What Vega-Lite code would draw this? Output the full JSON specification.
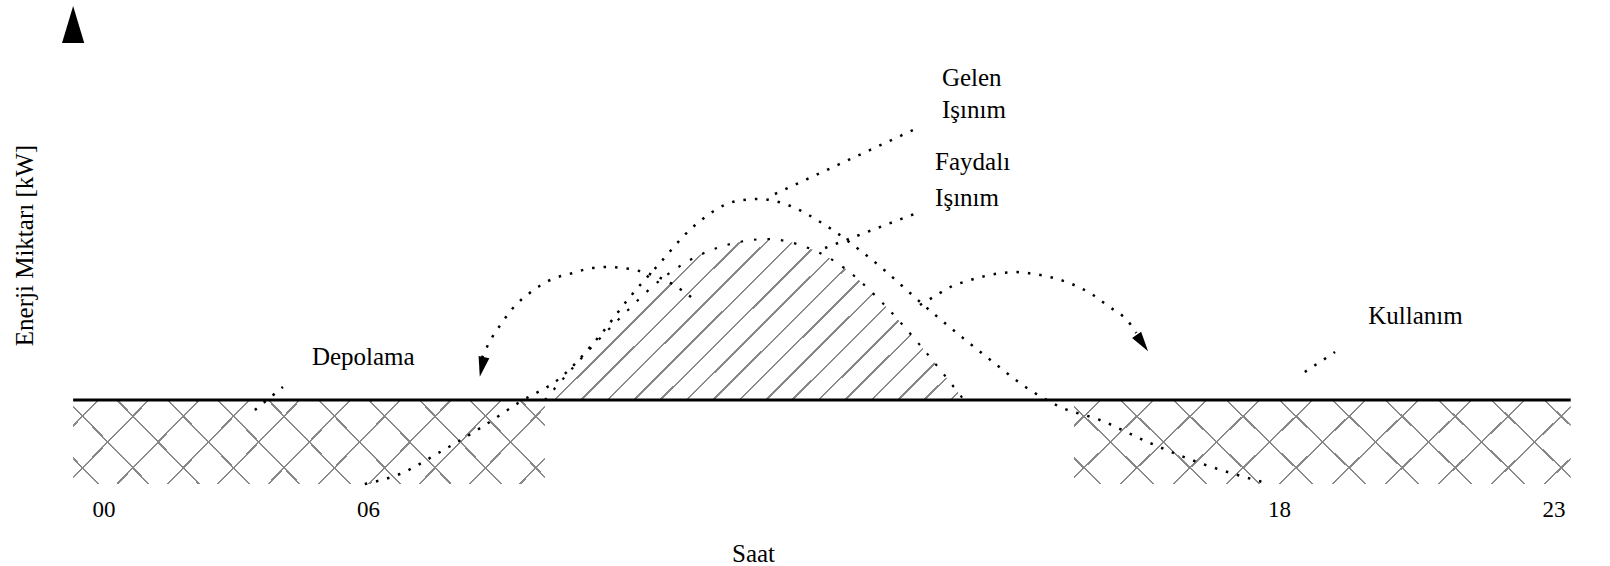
{
  "$schema": "https://vega.github.io/schema/vega-lite/v6.json",
  "width": 1498,
  "height": 478,
  "autosize": {"type": "none"},
  "padding": {"left": 73, "top": 6, "right": 39, "bottom": 82},
  "background": "white",
  "config": {
    "view": {"stroke": null},
    "text": {"font": "Liberation Serif"},
    "axis": {"labelFont": "Liberation Serif", "titleFont": "Liberation Serif", "titleFontWeight": "normal", "labelColor": "black", "titleColor": "black", "grid": false}
  },
  "datasets": {
    "gelen": [
      {"h": 5.93, "v": 0}, {"h": 6.42, "v": 1.0}, {"h": 6.95, "v": 3.2}, {"h": 7.48, "v": 5.6},
      {"h": 8.0, "v": 8.2}, {"h": 8.53, "v": 10.6}, {"h": 9.06, "v": 14.9}, {"h": 9.45, "v": 18.7},
      {"h": 9.81, "v": 21.8}, {"h": 10.31, "v": 25.9}, {"h": 10.86, "v": 28.3}, {"h": 11.16, "v": 28.5},
      {"h": 11.53, "v": 27.9}, {"h": 12.02, "v": 25.9}, {"h": 12.61, "v": 22.6}, {"h": 13.44, "v": 17.1},
      {"h": 14.2, "v": 12.4}, {"h": 14.72, "v": 9.4}, {"h": 15.12, "v": 7.7}, {"h": 15.64, "v": 6.4},
      {"h": 16.3, "v": 4.1}, {"h": 16.96, "v": 2.1}, {"h": 17.78, "v": 0.2}
    ],
    "faydali": [
      {"h": 8.33, "v": 8.4}, {"h": 8.79, "v": 12.4}, {"h": 9.32, "v": 16.6}, {"h": 9.85, "v": 20.4},
      {"h": 10.37, "v": 22.9}, {"h": 10.83, "v": 24.1}, {"h": 11.27, "v": 24.5}, {"h": 11.69, "v": 23.9},
      {"h": 12.22, "v": 21.9}, {"h": 12.74, "v": 18.4}, {"h": 13.27, "v": 13.9}, {"h": 13.85, "v": 8.4}
    ],
    "kullanim": [
      {"h": -0.41, "h2": 8.33, "v": 0, "v2": 8.4},
      {"h": 15.3, "h2": 23.1, "v": 0, "v2": 8.4}
    ],
    "usage": [{"h": -0.41, "h2": 23.1, "v": 8.4}],
    "arcs": [
      {"id": "L", "h": 10.31, "v": 18.4}, {"id": "L", "h": 9.91, "v": 20.4}, {"id": "L", "h": 9.67, "v": 21.1},
      {"id": "L", "h": 9.36, "v": 21.6}, {"id": "L", "h": 9.15, "v": 21.7}, {"id": "L", "h": 8.95, "v": 21.6},
      {"id": "L", "h": 8.7, "v": 21.1}, {"id": "L", "h": 8.4, "v": 20.4}, {"id": "L", "h": 8.13, "v": 19.1},
      {"id": "L", "h": 7.91, "v": 17.6}, {"id": "L", "h": 7.78, "v": 16.3}, {"id": "L", "h": 7.58, "v": 13.9},
      {"id": "L", "h": 7.5, "v": 12.6},
      {"id": "R", "h": 13.27, "v": 17.9}, {"id": "R", "h": 13.47, "v": 18.8}, {"id": "R", "h": 13.67, "v": 19.7},
      {"id": "R", "h": 13.89, "v": 20.3}, {"id": "R", "h": 14.13, "v": 20.8}, {"id": "R", "h": 14.35, "v": 21.1},
      {"id": "R", "h": 14.52, "v": 21.2}, {"id": "R", "h": 14.68, "v": 21.1}, {"id": "R", "h": 14.92, "v": 20.8},
      {"id": "R", "h": 15.08, "v": 20.5}, {"id": "R", "h": 15.27, "v": 20.0}, {"id": "R", "h": 15.55, "v": 18.9},
      {"id": "R", "h": 15.73, "v": 17.9}, {"id": "R", "h": 16.04, "v": 16.0}, {"id": "R", "h": 16.12, "v": 15.1}
    ],
    "leaders": [
      {"id": "G", "h": 11.36, "v": 29.0}, {"id": "G", "h": 13.21, "v": 35.5},
      {"id": "F", "h": 12.02, "v": 23.6}, {"id": "F", "h": 13.23, "v": 27.1},
      {"id": "K", "h": 18.45, "v": 11.2}, {"id": "K", "h": 18.98, "v": 13.2},
      {"id": "D", "h": 3.54, "v": 7.4}, {"id": "D", "h": 4.15, "v": 9.7}
    ],
    "heads": [
      {"k": "L", "h": 7.5, "v": 11.7},
      {"k": "R", "h": 16.2, "v": 14.1},
      {"k": "Y", "h": -0.41, "v": 45.95}
    ],
    "labels": [
      {"t": "Gelen", "h": 13.56, "v": 40.6},
      {"t": "Işınım", "h": 13.56, "v": 37.4},
      {"t": "Faydalı", "h": 13.47, "v": 32.2},
      {"t": "Işınım", "h": 13.47, "v": 28.6},
      {"t": "Depolama", "h": 4.78, "v": 12.7},
      {"t": "Kullanım", "h": 19.56, "v": 16.8}
    ]
  },
  "encoding": {
    "x": {
      "field": "h", "type": "quantitative",
      "scale": {"type": "linear", "domain": [0, 6, 18, 23], "range": [19, 295, 1206, 1492], "nice": false, "zero": false},
      "axis": {
        "title": "Saat", "titleFontSize": 25, "titleX": 680, "titleY": 77, "titleBaseline": "alphabetic",
        "values": [0, 6, 18, 23], "labelExpr": "datum.value < 10 ? '0' + datum.value : '' + datum.value",
        "labelFontSize": 23, "labelPadding": 14, "ticks": false, "tickSize": 0, "domain": false
      }
    },
    "y": {
      "field": "v", "type": "quantitative",
      "scale": {"domain": [0, 47.8], "nice": false, "zero": false},
      "axis": {
        "title": "Enerji Miktarı [kW]", "titleFontSize": 25, "titleAngle": -90, "titleX": -49, "titleY": 239,
        "titleBaseline": "middle", "titleAlign": "center",
        "labels": false, "ticks": false, "tickSize": 0, "domain": false
      }
    }
  },
  "layer": [
    {
      "data": {"name": "kullanim"},
      "mark": {
        "type": "rect",
        "fill": {
          "gradient": "linear", "x1": 0, "y1": 0, "x2": 1.14, "y2": 0.198,
          "stops": [
            {"offset": 0.0435, "color": "#fff"}, {"offset": 0.0435, "color": "#888"}, {"offset": 0.0475, "color": "#888"}, {"offset": 0.0475, "color": "#fff"},
            {"offset": 0.1344, "color": "#fff"}, {"offset": 0.1344, "color": "#888"}, {"offset": 0.1384, "color": "#888"}, {"offset": 0.1384, "color": "#fff"},
            {"offset": 0.2253, "color": "#fff"}, {"offset": 0.2253, "color": "#888"}, {"offset": 0.2293, "color": "#888"}, {"offset": 0.2293, "color": "#fff"},
            {"offset": 0.3162, "color": "#fff"}, {"offset": 0.3162, "color": "#888"}, {"offset": 0.3202, "color": "#888"}, {"offset": 0.3202, "color": "#fff"},
            {"offset": 0.4071, "color": "#fff"}, {"offset": 0.4071, "color": "#888"}, {"offset": 0.4111, "color": "#888"}, {"offset": 0.4111, "color": "#fff"},
            {"offset": 0.498, "color": "#fff"}, {"offset": 0.498, "color": "#888"}, {"offset": 0.502, "color": "#888"}, {"offset": 0.502, "color": "#fff"},
            {"offset": 0.5889, "color": "#fff"}, {"offset": 0.5889, "color": "#888"}, {"offset": 0.5929, "color": "#888"}, {"offset": 0.5929, "color": "#fff"},
            {"offset": 0.6798, "color": "#fff"}, {"offset": 0.6798, "color": "#888"}, {"offset": 0.6838, "color": "#888"}, {"offset": 0.6838, "color": "#fff"},
            {"offset": 0.7707, "color": "#fff"}, {"offset": 0.7707, "color": "#888"}, {"offset": 0.7747, "color": "#888"}, {"offset": 0.7747, "color": "#fff"},
            {"offset": 0.8616, "color": "#fff"}, {"offset": 0.8616, "color": "#888"}, {"offset": 0.8656, "color": "#888"}, {"offset": 0.8656, "color": "#fff"},
            {"offset": 0.9525, "color": "#fff"}, {"offset": 0.9525, "color": "#888"}, {"offset": 0.9565, "color": "#888"}, {"offset": 0.9565, "color": "#fff"}
          ]
        }
      },
      "encoding": {"x2": {"field": "h2"}, "y2": {"field": "v2"}}
    },
    {
      "data": {"name": "kullanim"},
      "mark": {
        "type": "rect",
        "fill": {
          "gradient": "linear", "x1": 0, "y1": 1, "x2": 1.14, "y2": 0.802,
          "stops": [
            {"offset": 0.0435, "color": "rgba(255,255,255,0)"}, {"offset": 0.0435, "color": "#888"}, {"offset": 0.0475, "color": "#888"}, {"offset": 0.0475, "color": "rgba(255,255,255,0)"},
            {"offset": 0.1344, "color": "rgba(255,255,255,0)"}, {"offset": 0.1344, "color": "#888"}, {"offset": 0.1384, "color": "#888"}, {"offset": 0.1384, "color": "rgba(255,255,255,0)"},
            {"offset": 0.2253, "color": "rgba(255,255,255,0)"}, {"offset": 0.2253, "color": "#888"}, {"offset": 0.2293, "color": "#888"}, {"offset": 0.2293, "color": "rgba(255,255,255,0)"},
            {"offset": 0.3162, "color": "rgba(255,255,255,0)"}, {"offset": 0.3162, "color": "#888"}, {"offset": 0.3202, "color": "#888"}, {"offset": 0.3202, "color": "rgba(255,255,255,0)"},
            {"offset": 0.4071, "color": "rgba(255,255,255,0)"}, {"offset": 0.4071, "color": "#888"}, {"offset": 0.4111, "color": "#888"}, {"offset": 0.4111, "color": "rgba(255,255,255,0)"},
            {"offset": 0.498, "color": "rgba(255,255,255,0)"}, {"offset": 0.498, "color": "#888"}, {"offset": 0.502, "color": "#888"}, {"offset": 0.502, "color": "rgba(255,255,255,0)"},
            {"offset": 0.5889, "color": "rgba(255,255,255,0)"}, {"offset": 0.5889, "color": "#888"}, {"offset": 0.5929, "color": "#888"}, {"offset": 0.5929, "color": "rgba(255,255,255,0)"},
            {"offset": 0.6798, "color": "rgba(255,255,255,0)"}, {"offset": 0.6798, "color": "#888"}, {"offset": 0.6838, "color": "#888"}, {"offset": 0.6838, "color": "rgba(255,255,255,0)"},
            {"offset": 0.7707, "color": "rgba(255,255,255,0)"}, {"offset": 0.7707, "color": "#888"}, {"offset": 0.7747, "color": "#888"}, {"offset": 0.7747, "color": "rgba(255,255,255,0)"},
            {"offset": 0.8616, "color": "rgba(255,255,255,0)"}, {"offset": 0.8616, "color": "#888"}, {"offset": 0.8656, "color": "#888"}, {"offset": 0.8656, "color": "rgba(255,255,255,0)"},
            {"offset": 0.9525, "color": "rgba(255,255,255,0)"}, {"offset": 0.9525, "color": "#888"}, {"offset": 0.9565, "color": "#888"}, {"offset": 0.9565, "color": "rgba(255,255,255,0)"}
          ]
        }
      },
      "encoding": {"x2": {"field": "h2"}, "y2": {"field": "v2"}}
    },
    {
      "data": {"name": "faydali"},
      "mark": {
        "type": "area", "interpolate": "monotone",
        "fill": {
          "gradient": "linear", "x1": 0, "y1": 0, "x2": 1.206, "y2": 0.466,
          "stops": [
            {"offset": 0.0205, "color": "#fff"}, {"offset": 0.0205, "color": "#888"}, {"offset": 0.0249, "color": "#888"}, {"offset": 0.0249, "color": "#fff"},
            {"offset": 0.066, "color": "#fff"}, {"offset": 0.066, "color": "#888"}, {"offset": 0.0704, "color": "#888"}, {"offset": 0.0704, "color": "#fff"},
            {"offset": 0.1114, "color": "#fff"}, {"offset": 0.1114, "color": "#888"}, {"offset": 0.1158, "color": "#888"}, {"offset": 0.1158, "color": "#fff"},
            {"offset": 0.1569, "color": "#fff"}, {"offset": 0.1569, "color": "#888"}, {"offset": 0.1613, "color": "#888"}, {"offset": 0.1613, "color": "#fff"},
            {"offset": 0.2023, "color": "#fff"}, {"offset": 0.2023, "color": "#888"}, {"offset": 0.2067, "color": "#888"}, {"offset": 0.2067, "color": "#fff"},
            {"offset": 0.2478, "color": "#fff"}, {"offset": 0.2478, "color": "#888"}, {"offset": 0.2522, "color": "#888"}, {"offset": 0.2522, "color": "#fff"},
            {"offset": 0.2933, "color": "#fff"}, {"offset": 0.2933, "color": "#888"}, {"offset": 0.2977, "color": "#888"}, {"offset": 0.2977, "color": "#fff"},
            {"offset": 0.3387, "color": "#fff"}, {"offset": 0.3387, "color": "#888"}, {"offset": 0.3431, "color": "#888"}, {"offset": 0.3431, "color": "#fff"},
            {"offset": 0.3842, "color": "#fff"}, {"offset": 0.3842, "color": "#888"}, {"offset": 0.3886, "color": "#888"}, {"offset": 0.3886, "color": "#fff"},
            {"offset": 0.4296, "color": "#fff"}, {"offset": 0.4296, "color": "#888"}, {"offset": 0.434, "color": "#888"}, {"offset": 0.434, "color": "#fff"},
            {"offset": 0.4751, "color": "#fff"}, {"offset": 0.4751, "color": "#888"}, {"offset": 0.4795, "color": "#888"}, {"offset": 0.4795, "color": "#fff"},
            {"offset": 0.5205, "color": "#fff"}, {"offset": 0.5205, "color": "#888"}, {"offset": 0.5249, "color": "#888"}, {"offset": 0.5249, "color": "#fff"},
            {"offset": 0.566, "color": "#fff"}, {"offset": 0.566, "color": "#888"}, {"offset": 0.5704, "color": "#888"}, {"offset": 0.5704, "color": "#fff"},
            {"offset": 0.6114, "color": "#fff"}, {"offset": 0.6114, "color": "#888"}, {"offset": 0.6158, "color": "#888"}, {"offset": 0.6158, "color": "#fff"},
            {"offset": 0.6569, "color": "#fff"}, {"offset": 0.6569, "color": "#888"}, {"offset": 0.6613, "color": "#888"}, {"offset": 0.6613, "color": "#fff"},
            {"offset": 0.7023, "color": "#fff"}, {"offset": 0.7023, "color": "#888"}, {"offset": 0.7067, "color": "#888"}, {"offset": 0.7067, "color": "#fff"},
            {"offset": 0.7478, "color": "#fff"}, {"offset": 0.7478, "color": "#888"}, {"offset": 0.7522, "color": "#888"}, {"offset": 0.7522, "color": "#fff"},
            {"offset": 0.7933, "color": "#fff"}, {"offset": 0.7933, "color": "#888"}, {"offset": 0.7977, "color": "#888"}, {"offset": 0.7977, "color": "#fff"},
            {"offset": 0.8387, "color": "#fff"}, {"offset": 0.8387, "color": "#888"}, {"offset": 0.8431, "color": "#888"}, {"offset": 0.8431, "color": "#fff"},
            {"offset": 0.8842, "color": "#fff"}, {"offset": 0.8842, "color": "#888"}, {"offset": 0.8886, "color": "#888"}, {"offset": 0.8886, "color": "#fff"},
            {"offset": 0.9296, "color": "#fff"}, {"offset": 0.9296, "color": "#888"}, {"offset": 0.934, "color": "#888"}, {"offset": 0.934, "color": "#fff"},
            {"offset": 0.9751, "color": "#fff"}, {"offset": 0.9751, "color": "#888"}, {"offset": 0.9795, "color": "#888"}, {"offset": 0.9795, "color": "#fff"}
          ]
        }
      },
      "encoding": {"y2": {"datum": 8.4}}
    },
    {
      "data": {"name": "usage"},
      "mark": {"type": "rule", "color": "black", "strokeWidth": 2.8},
      "encoding": {"x2": {"field": "h2"}}
    },
    {
      "data": {"name": "gelen"},
      "mark": {"type": "line", "color": "black", "strokeWidth": 2.5, "strokeDash": [2.5, 9], "interpolate": "monotone"}
    },
    {
      "data": {"name": "faydali"},
      "mark": {"type": "line", "color": "black", "strokeWidth": 2.2, "strokeDash": [2.5, 11], "interpolate": "monotone"}
    },
    {
      "data": {"name": "arcs"},
      "mark": {"type": "line", "color": "black", "strokeWidth": 2.5, "strokeDash": [2.5, 9], "interpolate": "monotone"},
      "encoding": {"detail": {"field": "id"}}
    },
    {
      "data": {"name": "leaders"},
      "mark": {"type": "line", "color": "black", "strokeWidth": 2.5, "strokeDash": [2.5, 9]},
      "encoding": {"detail": {"field": "id"}}
    },
    {
      "data": {"name": "heads"},
      "transform": [{"filter": "datum.k === 'L'"}],
      "mark": {"type": "point", "shape": "M-0.55,-1L0.55,-1L0,1Z", "size": 400, "filled": true, "color": "black", "opacity": 1, "angle": 12}
    },
    {
      "data": {"name": "heads"},
      "transform": [{"filter": "datum.k === 'R'"}],
      "mark": {"type": "point", "shape": "M-0.55,-1L0.55,-1L0,1Z", "size": 400, "filled": true, "color": "black", "opacity": 1, "angle": -35}
    },
    {
      "data": {"name": "heads"},
      "transform": [{"filter": "datum.k === 'Y'"}],
      "mark": {"type": "point", "shape": "M0,-1L0.6,1L-0.6,1Z", "size": 1369, "filled": true, "color": "black", "opacity": 1}
    },
    {
      "data": {"name": "labels"},
      "mark": {"type": "text", "align": "left", "baseline": "middle", "fontSize": 25, "font": "Liberation Serif", "color": "black"},
      "encoding": {"text": {"field": "t"}}
    }
  ]
}
